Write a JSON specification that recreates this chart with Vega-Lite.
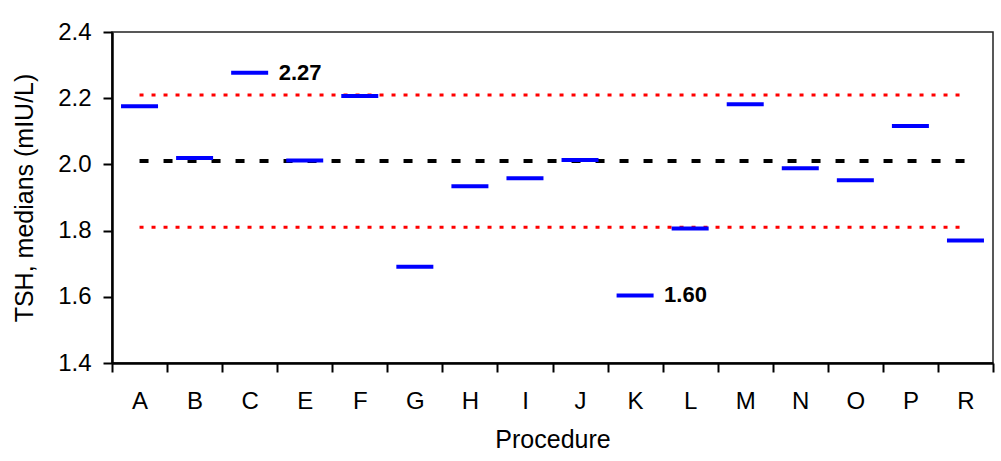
{
  "$schema": "https://vega.github.io/schema/vega-lite/v6.json",
  "width": 881,
  "height": 331,
  "autosize": {"type": "none"},
  "padding": {"left": 112, "top": 32, "right": 8, "bottom": 98},
  "background": "white",
  "config": {
    "font": "Liberation Sans",
    "view": {"stroke": "#222", "strokeWidth": 1.5},
    "axis": {"grid": false, "domainColor": "black", "domainWidth": 2.5, "tickColor": "black", "tickWidth": 2, "labelColor": "black", "titleColor": "black", "labelFont": "Liberation Sans", "titleFont": "Liberation Sans", "titleFontWeight": "normal"}
  },
  "datasets": {
    "medians": [
      {"procedure": "A", "median": 2.176},
      {"procedure": "B", "median": 2.019},
      {"procedure": "C", "median": 2.277, "label": "2.27"},
      {"procedure": "E", "median": 2.012},
      {"procedure": "F", "median": 2.207},
      {"procedure": "G", "median": 1.691},
      {"procedure": "H", "median": 1.934},
      {"procedure": "I", "median": 1.958},
      {"procedure": "J", "median": 2.013},
      {"procedure": "K", "median": 1.604, "label": "1.60"},
      {"procedure": "L", "median": 1.806},
      {"procedure": "M", "median": 2.182},
      {"procedure": "N", "median": 1.988},
      {"procedure": "O", "median": 1.952},
      {"procedure": "P", "median": 2.116},
      {"procedure": "R", "median": 1.770}
    ],
    "limits": [
      {"kind": "upper", "level": 2.21, "from": "A", "to": "R"},
      {"kind": "mean", "level": 2.01, "from": "A", "to": "R"},
      {"kind": "lower", "level": 1.81, "from": "A", "to": "R"}
    ]
  },
  "encoding": {
    "x": {
      "field": "procedure",
      "type": "nominal",
      "sort": ["A","B","C","E","F","G","H","I","J","K","L","M","N","O","P","R"],
      "scale": {"domain": ["A","B","C","E","F","G","H","I","J","K","L","M","N","O","P","R"], "paddingInner": 0, "paddingOuter": 0},
      "axis": {"title": "Procedure", "labelAngle": 0, "labelFontSize": 24, "titleFontSize": 25, "tickSize": 9, "tickBand": "extent", "labelPadding": 17, "titlePadding": 14}
    },
    "y": {
      "field": "median",
      "type": "quantitative",
      "scale": {"domain": [1.4, 2.4], "nice": false, "zero": false},
      "axis": {"title": "TSH, medians (mIU/L)", "values": [1.4, 1.6, 1.8, 2.0, 2.2, 2.4], "format": ".1f", "labelFontSize": 24, "titleFontSize": 25, "tickSize": 9, "labelPadding": 12, "titlePadding": 20}
    }
  },
  "layer": [
    {
      "data": {"name": "limits"},
      "transform": [{"filter": "datum.kind != 'mean'"}],
      "mark": {"type": "rule", "color": "#ff0000", "strokeWidth": 3, "strokeDash": [4, 8]},
      "encoding": {
        "x": {"field": "from", "type": "nominal", "bandPosition": 0.5},
        "x2": {"field": "to", "bandPosition": 0.5},
        "y": {"field": "level", "type": "quantitative"}
      }
    },
    {
      "data": {"name": "limits"},
      "transform": [{"filter": "datum.kind == 'mean'"}],
      "mark": {"type": "rule", "color": "black", "strokeWidth": 4, "strokeDash": [9, 15]},
      "encoding": {
        "x": {"field": "from", "type": "nominal", "bandPosition": 0.5},
        "x2": {"field": "to", "bandPosition": 0.5},
        "y": {"field": "level", "type": "quantitative"}
      }
    },
    {
      "data": {"name": "medians"},
      "mark": {"type": "tick", "color": "#0000ff", "size": 37, "thickness": 4, "opacity": 1}
    },
    {
      "data": {"name": "medians"},
      "transform": [{"filter": "datum.label != null"}],
      "mark": {"type": "text", "align": "left", "baseline": "middle", "dx": 29, "fontSize": 22, "fontWeight": "bold", "color": "black"},
      "encoding": {"text": {"field": "label"}}
    }
  ]
}
